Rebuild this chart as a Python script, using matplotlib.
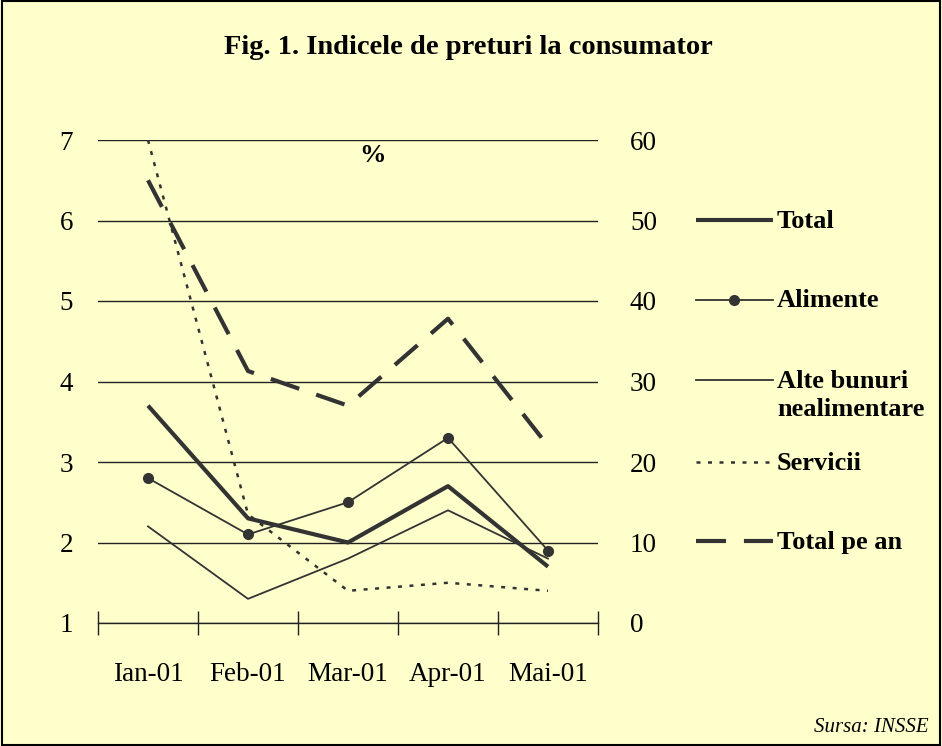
import matplotlib
matplotlib.use("Agg")
import matplotlib.pyplot as plt
from matplotlib.lines import Line2D
from matplotlib.patches import Rectangle

# ---- data ----
categories = ["Ian-01", "Feb-01", "Mar-01", "Apr-01", "Mai-01"]
total = [3.7, 2.3, 2.0, 2.7, 1.7]
alimente = [2.8, 2.1, 2.5, 3.3, 1.9]
alte_bunuri = [2.2, 1.3, 1.8, 2.4, 1.8]
servicii = [7.0, 2.35, 1.4, 1.5, 1.4]
total_pe_an = [55, 31.3, 27, 37.8, 22]          # right axis
left_ticks = [1, 2, 3, 4, 5, 6, 7]
right_ticks = [0, 10, 20, 30, 40, 50, 60]
legend_labels = ["Total", "Alimente", "Alte bunuri\nnealimentare", "Servicii", "Total pe an"]

BG = "#FFFFCC"
LC = "#333333"
FONT = "Liberation Serif"
plt.rcParams['font.family'] = [FONT, 'DejaVu Serif']

W, H = 942, 746
fig = plt.figure(figsize=(W / 100, H / 100), dpi=100, facecolor=BG)

def fx(px):
    return px / W

def fy(py):
    return 1 - py / H

ax = fig.add_axes([fx(98), fy(623), fx(598) - fx(98), fy(140) - fy(623)])
ax.set_facecolor(BG)
ax2 = ax.twinx()

x = list(range(len(categories)))

# styles
st_total = dict(color=LC, lw=3.0, solid_capstyle='butt')
st_alim = dict(color=LC, lw=1.3, marker='o', markersize=7)
st_alte = dict(color=LC, lw=1.3)
st_serv = dict(color=LC, lw=1.8, linestyle=(0, (1.6, 3.0)))
st_tpa = dict(color=LC, lw=3.0, linestyle=(0, (7.2, 4.3)))

ax.plot(x, alte_bunuri, **st_alte, zorder=3)
ax.plot(x, alimente, **st_alim, zorder=3)
ax.plot(x, servicii, **st_serv, zorder=3)
ax.plot(x, total, **st_total, zorder=4)
ax2.plot(x, total_pe_an, **st_tpa, zorder=4)

ax.set_xlim(-0.5, len(categories) - 0.5)
ax.set_ylim(left_ticks[0], left_ticks[-1])
ax2.set_ylim(right_ticks[0], right_ticks[-1])

ax.set_yticks(left_ticks)
ax.set_yticklabels([str(v) for v in left_ticks])
ax2.set_yticks(right_ticks)
ax2.set_yticklabels([str(v) for v in right_ticks])

ax.yaxis.grid(True, color="#222222", lw=1.0)
ax.set_axisbelow(True)

for a in (ax, ax2):
    for s in ("left", "right", "top"):
        a.spines[s].set_visible(False)
ax2.spines["bottom"].set_visible(False)
ax.spines["bottom"].set_color("#222222")
ax.spines["bottom"].set_linewidth(1.0)

ax.tick_params(axis='y', length=0, pad=18, labelsize=19.5)
ax2.tick_params(axis='y', length=0, pad=23, labelsize=19.5)

ax.set_xticks(x)
ax.set_xticklabels(categories)
ax.set_xticks([i - 0.5 for i in range(len(categories) + 1)], minor=True)
ax.tick_params(axis='x', which='major', length=0, pad=28, labelsize=19.5)
ax.tick_params(axis='x', which='minor', direction='inout', length=17, width=1.0, color="#222222")

# title and annotations
fig.text(0.497, fy(48), "Fig. 1. Indicele de preturi la consumator", ha='center', va='center',
         fontsize=20.5, fontweight='bold')
fig.text(fx(372), fy(156), "%", ha='center', va='center', fontsize=19, fontweight='bold')
fig.text(fx(929), fy(728), "Sursa: INSSE", ha='right', va='center', fontsize=15, style='italic')

# legend (manual)
styles = [st_total, st_alim, st_alte, st_serv, st_tpa]
leg_y = [220, 300, 380, 462, 541]
for lab, st, py in zip(legend_labels, styles, leg_y):
    s = dict(st)
    mk = s.pop('marker', None)
    ms = s.pop('markersize', None)
    fig.add_artist(Line2D([fx(696), fx(773)], [fy(py), fy(py)], transform=fig.transFigure, **s))
    if mk:
        fig.add_artist(Line2D([fx(734)], [fy(py)], transform=fig.transFigure, color=LC,
                              marker=mk, markersize=ms, lw=0))
    lines = lab.split("\n")
    for k, t in enumerate(lines):
        fig.text(fx(777), fy(py + 1 + 28 * k), t, ha='left', va='center', fontsize=19,
                 fontweight='bold')

# border
fig.add_artist(Rectangle((0.002, 0.002), 0.996, 0.996, transform=fig.transFigure,
                         fill=False, edgecolor='black', lw=1.5))

fig.savefig("out.png", dpi=100, facecolor=BG)
